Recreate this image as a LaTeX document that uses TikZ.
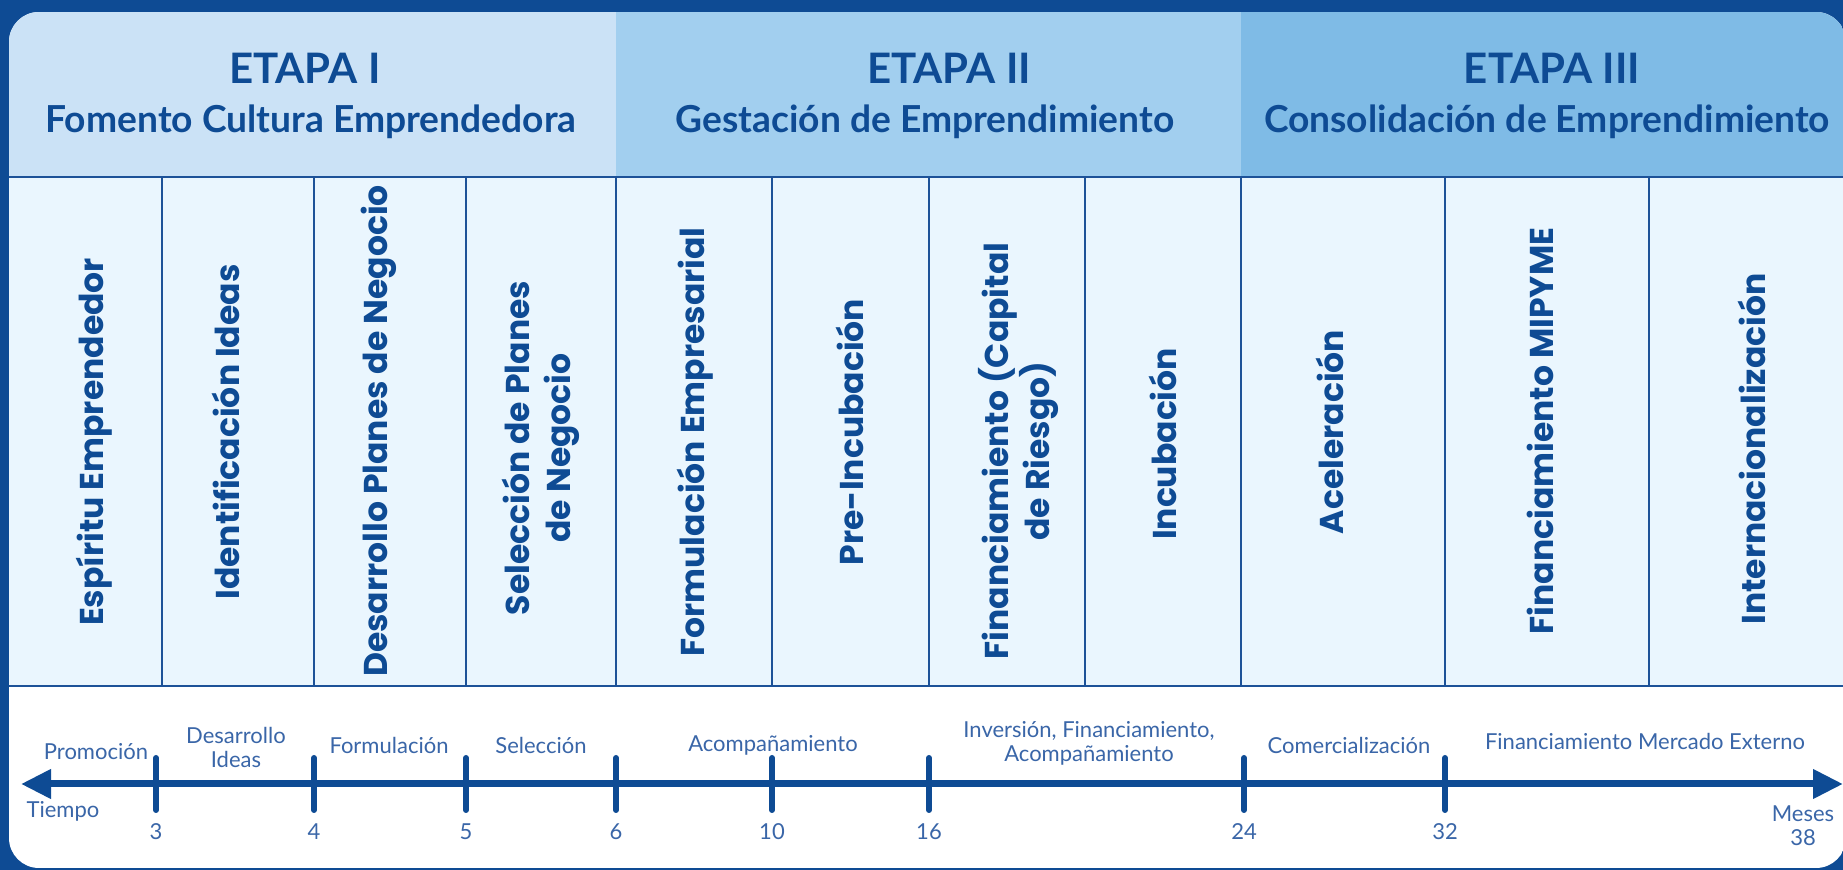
\documentclass[tikz,border=0pt]{standalone}
\usepackage{fontspec}
\setmainfont{Lato}
\newfontfamily\colfont{Poppins}
\usetikzlibrary{arrows.meta}
\definecolor{navy}{HTML}{0E4B94}
\definecolor{etapaA}{HTML}{CBE2F6}
\definecolor{etapaB}{HTML}{A2CFEF}
\definecolor{etapaC}{HTML}{7FBBE6}
\definecolor{colfill}{HTML}{EAF6FE}
\definecolor{rule}{HTML}{1D5298}
\definecolor{tltext}{HTML}{3A66A8}
\begin{document}
\begin{tikzpicture}[line join=round,line cap=round,x=0.5pt,y=-0.5pt,>={Triangle[length=15pt,width=14pt]}]
		\tikzset{etapa/.style={text=navy,font=\bfseries\fontsize{21}{25}\selectfont},
			lema/.style={text=navy,font=\bfseries\fontsize{18.6}{22}\selectfont},
			fase/.style={text=navy,font=\colfont\bfseries\fontsize{16.5}{20.5}\selectfont,rotate=90,align=center,inner sep=0pt},
			hito/.style={text=tltext,font=\fontsize{11}{12}\selectfont,align=center,inner sep=0pt},
			marca/.style={draw=navy,line width=3pt}}
		\useasboundingbox (0,0) rectangle (1843,870);
		\fill[navy] (0,0) rectangle (1843,870);
		\begin{scope}
			\clip[rounded corners=15pt] (9,12) rectangle (1846,868);
			\fill[white] (9,12) rectangle (1846,868);
			\fill[etapaA] (9,12) rectangle (616,177);
			\fill[etapaB] (616,12) rectangle (1241,177);
			\fill[etapaC] (1241,12) rectangle (1846,177);
			\fill[colfill] (9,177) rectangle (1846,686);
			\draw[rule,line width=1pt] (9,177)--(1846,177);
			\draw[rule,line width=1.3pt] (9,686)--(1846,686);
			\foreach \x in {162,314,466,616,772,929,1085,1241,1445,1649}
			\draw[rule,line width=1.2pt,line cap=butt] (\x,177)--(\x,686);
		\end{scope}
		\node[etapa] (e1) at (305,68) {ETAPA I};
		\node[lema] (l1) at (311,122) {Fomento Cultura Emprendedora};
		\node[etapa] (e2) at (949,68) {ETAPA II};
		\node[lema] (l2) at (925,122) {Gestación de Emprendimiento};
		\node[etapa] (e3) at (1552,68) {ETAPA III};
		\node[lema] (l3) at (1547,122) {Consolidación de Emprendimiento};
		\foreach \x/\y/\n/\t in {94/442/c1/{Espíritu Emprendedor},226/432/c2/{Identificación Ideas},
			379/431/c3/{Desarrollo Planes de Negocio},541/448/c4/{Selección de Planes\\de Negocio},
			695/442/c5/{Formulación Empresarial},850/432/c6/{Pre-Incubación},
			1018/451/c7/{Financiamiento (Capital\\de Riesgo)},1163/444/c8/{Incubación},
			1330/432/c9/{Aceleración},1540/431/c10/{Financiamiento MIPYME},1752/449/c11/{Internacionalización}}
		\node[fase] (\n) at (\x,\y) {\t};
		\coordinate (ejeIzq) at (21,784);
		\coordinate (ejeDer) at (1843,784);
		\draw[<->,navy,line width=3.5pt,line cap=butt] (ejeIzq)--(ejeDer);
		\foreach \x/\nx in {156/3,314/4,466/5,616/6,772/10,929/16,1244/24,1445/32}
		\draw[marca] (\x,758)--(\x,810) node[hito,pos=1,yshift=-11pt] (m\nx) {\nx};
		\foreach \x/\y/\n/\t in {96/752/h1/{Promoción},236/747/h2/{Desarrollo\\Ideas},389/745/h3/{Formulación},
			541/745/h4/{Selección},773/745/h5/{Acompañamiento},1089/743/h6/{Inversión, Financiamiento,\\Acompañamiento},
			1349/745/h7/{Comercialización},1645/741/h8/{Financiamiento Mercado Externo}}
		\node[hito] (\n) at (\x,\y) {\t};
		\node[hito] (tiempo) at (63,811) {Tiempo};
		\node[hito] (meses) at (1803,826) {Meses\\38};
	\end{tikzpicture}
\end{document}
